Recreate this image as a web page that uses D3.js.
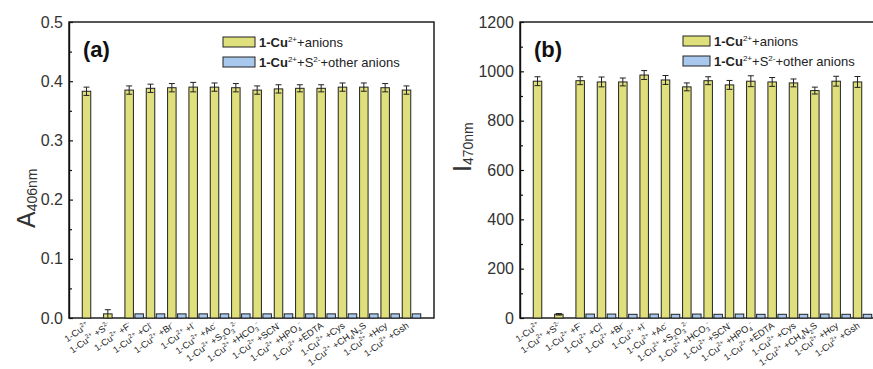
<!DOCTYPE html>
<html>
<head>
<meta charset="utf-8">
<script src="https://cdn.jsdelivr.net/npm/d3@7/dist/d3.min.js"></script>
<style>
  html, body { margin: 0; padding: 0; background: #fff; }
  svg { display: block; font-family: "Liberation Sans", Arial, sans-serif; }
</style>
</head>
<body>
<svg id="chart" width="873" height="369"></svg>
<script>
// Category labels (^..^ = superscript, _.._ = subscript)
const categories = [
  "1-Cu^2+^", "1-Cu^2+^ +S^2-^", "1-Cu^2+^ +F^-^", "1-Cu^2+^ +Cl^-^", "1-Cu^2+^ +Br^-^",
  "1-Cu^2+^ +I^-^", "1-Cu^2+^ +Ac^-^", "1-Cu^2+^ +S_2_O_3_^2-^", "1-Cu^2+^ +HCO_3_^-^",
  "1-Cu^2+^ +SCN^-^", "1-Cu^2+^ +HPO_4_^-^", "1-Cu^2+^ +EDTA", "1-Cu^2+^ +Cys",
  "1-Cu^2+^ +CH_4_N_2_S", "1-Cu^2+^ +Hcy", "1-Cu^2+^ +Gsh"
];

// (a) absorbance at 406 nm
const absAnions    = [0.383, 0.007, 0.385, 0.388, 0.389, 0.390, 0.390, 0.389, 0.385, 0.387, 0.388, 0.388, 0.390, 0.390, 0.389, 0.385];
const absAnionsErr = [0.007, 0.007, 0.007, 0.007, 0.007, 0.008, 0.007, 0.007, 0.007, 0.007, 0.006, 0.006, 0.007, 0.007, 0.007, 0.007];
const absSulfide   = [null, null, 0.007, 0.007, 0.007, 0.007, 0.007, 0.007, 0.007, 0.007, 0.007, 0.007, 0.007, 0.007, 0.007, 0.007];

// (b) emission intensity at 470 nm
const intAnions    = [960, 15, 962, 957, 957, 985, 965, 937, 962, 945, 960, 957, 953, 922, 960, 957];
const intAnionsErr = [18, 3, 16, 20, 16, 18, 18, 16, 16, 18, 22, 18, 16, 14, 20, 22];
const intSulfide   = [null, null, 16, 16, 15, 16, 15, 16, 15, 16, 15, 15, 15, 16, 15, 15];

const yTicksA = [0.0, 0.1, 0.2, 0.3, 0.4, 0.5];
const yTicksB = [0, 200, 400, 600, 800, 1000, 1200];

const COL_Y = "#dfdf7c";
const COL_B = "#a9c8ee";
const INK = "#111";
const TXT = "#333";

const svg = d3.select("#chart");

// Write a label containing ^sup^ and _sub_ runs as tspans
function rich(text, str, size, boldPrefix, scriptScale) {
  const sc = scriptScale || 0.62;
  const parts = [];
  const re = /(\^[^^]*\^|_[^_]*_)/g;
  let last = 0, m;
  while ((m = re.exec(str)) !== null) {
    if (m.index > last) parts.push({ t: str.slice(last, m.index), k: "n" });
    parts.push({ t: m[0].slice(1, -1), k: m[0][0] === "^" ? "sup" : "sub" });
    last = re.lastIndex;
  }
  if (last < str.length) parts.push({ t: str.slice(last), k: "n" });
  let shift = 0;
  parts.forEach((p, i) => {
    const target = p.k === "sup" ? -0.42 * size : p.k === "sub" ? 0.25 * size : 0;
    const ts = text.append("tspan")
      .attr("dy", target - shift)
      .attr("font-size", p.k === "n" ? size : size * sc)
      .attr("xml:space", "preserve")
      .text(p.t);
    if (boldPrefix && i === 0) ts.attr("font-weight", "bold");
    shift = target;
  });
}

function panel(cfg) {
  const g = svg.append("g");
  const x = d3.scaleBand().domain(d3.range(categories.length))
    .range([cfg.left, cfg.right]).paddingInner(0).paddingOuter(0.555);
  const sub = d3.scaleBand().domain(["a", "b"]).range([0, x.bandwidth()])
    .paddingInner(0.15).paddingOuter(0.142);
  const y = d3.scaleLinear().domain(cfg.domain).range([cfg.bottom, cfg.top]);

  // frame
  g.append("rect")
    .attr("x", cfg.left).attr("y", cfg.top)
    .attr("width", cfg.right - cfg.left).attr("height", cfg.bottom - cfg.top)
    .attr("fill", "none").attr("stroke", INK).attr("stroke-width", 1.4);

  // y axis with inward ticks
  const yAxis = d3.axisLeft(y).tickValues(cfg.ticks).tickFormat(cfg.fmt)
    .tickSizeInner(-4).tickSizeOuter(0).tickPadding(6);
  const ya = g.append("g").attr("transform", `translate(${cfg.left},0)`).call(yAxis);
  ya.select(".domain").attr("stroke", INK).attr("stroke-width", 1.4);
  ya.selectAll(".tick line").attr("stroke", INK).attr("stroke-width", 1.2);
  ya.selectAll(".tick text").attr("font-size", 16).attr("fill", TXT)
    .attr("font-family", "'Liberation Sans', Arial, sans-serif");
  // minor ticks
  const minor = d3.axisLeft(y).tickValues(cfg.minor).tickFormat("").tickSizeInner(-3).tickSizeOuter(0);
  const ym = g.append("g").attr("transform", `translate(${cfg.left},0)`).call(minor);
  ym.select(".domain").remove();
  ym.selectAll(".tick line").attr("stroke", INK).attr("stroke-width", 1.2);

  // bars
  const bars = g.append("g").attr("stroke", "#222").attr("stroke-width", 1);
  categories.forEach((c, i) => {
    const x0 = x(i);
    const ya0 = y(cfg.main[i]);
    bars.append("rect").attr("x", x0 + sub("a")).attr("y", ya0)
      .attr("width", sub.bandwidth()).attr("height", y(0) - ya0).attr("fill", COL_Y);
    if (cfg.other[i] != null) {
      const yb = y(cfg.other[i]);
      bars.append("rect").attr("x", x0 + sub("b")).attr("y", yb)
        .attr("width", sub.bandwidth()).attr("height", y(0) - yb).attr("fill", COL_B);
    }
    // error bar on the main series
    const cx = x0 + sub("a") + sub.bandwidth() / 2;
    const hi = y(cfg.main[i] + cfg.err[i]), lo = y(cfg.main[i] - cfg.err[i]);
    const eb = g.append("g").attr("stroke", "#222").attr("stroke-width", 1);
    eb.append("line").attr("x1", cx).attr("x2", cx).attr("y1", hi).attr("y2", Math.min(lo, y(0)));
    eb.append("line").attr("x1", cx - 3).attr("x2", cx + 3).attr("y1", hi).attr("y2", hi);
    if (lo < y(0)) eb.append("line").attr("x1", cx - 3).attr("x2", cx + 3).attr("y1", lo).attr("y2", lo);
  });

  // category labels
  categories.forEach((c, i) => {
    const cx = x(i) + x.bandwidth() / 2 - 2;
    const t = g.append("text")
      .attr("transform", `translate(${cx},${cfg.bottom + 9}) rotate(-35)`)
      .attr("text-anchor", "end").attr("fill", "#222").attr("font-size", 9.3);
    rich(t, c, 9.3, false, 0.66);
  });

  // panel letter
  g.append("text").attr("x", cfg.left + 14).attr("y", 57)
    .attr("font-size", 22).attr("font-weight", "bold").attr("fill", "#111").text(cfg.letter);

  // y title
  const yt = g.append("text")
    .attr("transform", `translate(${cfg.titleX},${cfg.titleY}) rotate(-90)`)
    .attr("fill", TXT);
  yt.append("tspan").attr("font-size", 25).text(cfg.titleMain);
  yt.append("tspan").attr("font-size", 14).attr("dy", 2).text(cfg.titleSub);

  // legend
  const lg = g.append("g").attr("transform", `translate(${cfg.legX},${cfg.legY})`);
  const items = [
    { fill: COL_Y, label: "1-Cu^2+^+anions" },
    { fill: COL_B, label: "1-Cu^2+^+S^2-^+other anions" }
  ];
  items.forEach((it, k) => {
    lg.append("rect").attr("x", 0).attr("y", k * 20).attr("width", cfg.legBox).attr("height", 10)
      .attr("fill", it.fill).attr("stroke", "#222").attr("stroke-width", 1);
    const t = lg.append("text").attr("x", cfg.legBox + 4).attr("y", k * 20 + 10)
      .attr("font-size", 13).attr("fill", "#222");
    rich(t, it.label, 13, true);
  });
}

panel({
  left: 69, right: 434, top: 22, bottom: 318,
  domain: [0, 0.5], ticks: yTicksA, minor: [0.05, 0.15, 0.25, 0.35, 0.45],
  fmt: d3.format(".1f"),
  main: absAnions, err: absAnionsErr, other: absSulfide,
  letter: "(a)", titleMain: "A", titleSub: "406nm", titleX: 35, titleY: 228,
  legX: 223, legY: 37, legBox: 32
});

panel({
  left: 520, right: 885, top: 22, bottom: 318,
  domain: [0, 1200], ticks: yTicksB, minor: [100, 300, 500, 700, 900, 1100],
  fmt: d3.format("d"),
  main: intAnions, err: intAnionsErr, other: intSulfide,
  letter: "(b)", titleMain: "I", titleSub: "470nm", titleX: 471, titleY: 172,
  legX: 683, legY: 36, legBox: 27
});
</script>
</body>
</html>
